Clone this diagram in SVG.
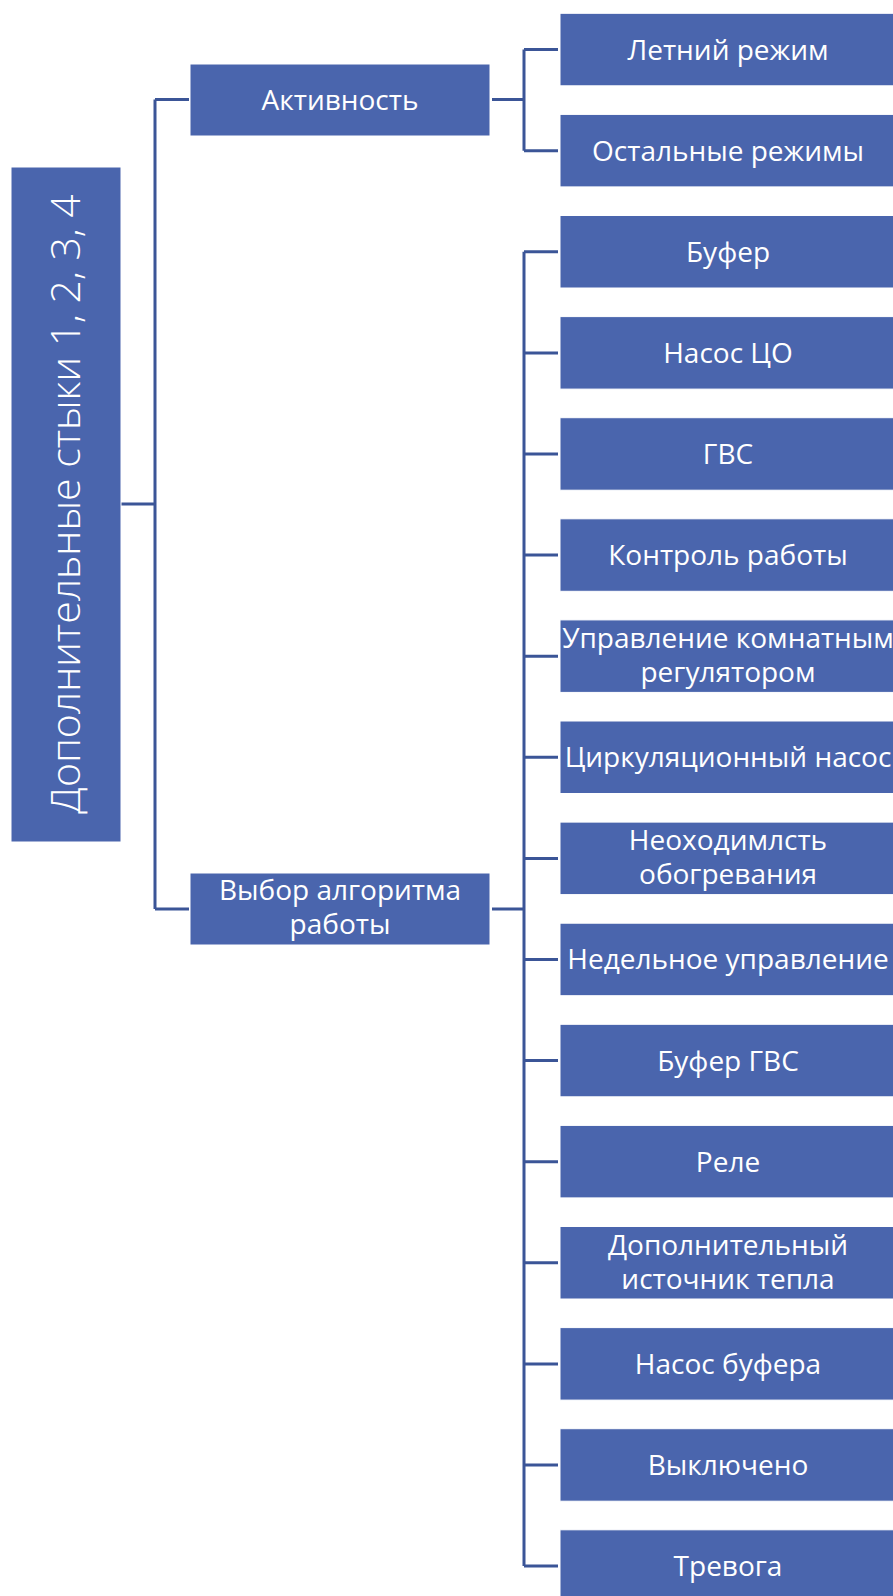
<svg xmlns="http://www.w3.org/2000/svg" width="893" height="1596" viewBox="0 0 893 1596">
<style>
.box{fill:#4A65AD;stroke:#ffffff;stroke-width:1}
.lbl{font-family:"Open Sans","Liberation Sans",sans-serif;font-size:28px;fill:#ffffff;text-anchor:middle}
.root{font-family:"Open Sans","Liberation Sans",sans-serif;font-size:41px;font-weight:300;fill:#ffffff;text-anchor:middle}
.conn{fill:none;stroke:#3B5597;stroke-width:3}
</style>
<rect width="893" height="1596" fill="#ffffff"/>
<g id="connectors">
<path class="conn" d="M121 504 H155 M155 99.5 V909 M155 99.5 H189 M155 909 H189"/>
<path class="conn" d="M492 99.5 H524 M524 49.5 V150.7 M524 49.5 H558 M524 150.7 H558"/>
<path class="conn" d="M492 909 H524 M524 251.8 V1566 M524 251.8 H558 M524 352.9 H558 M524 454 H558 M524 555.1 H558 M524 656.2 H558 M524 757.3 H558 M524 858.4 H558 M524 959.5 H558 M524 1060.6 H558 M524 1161.7 H558 M524 1262.8 H558 M524 1363.9 H558 M524 1465 H558 M524 1566 H558"/>
</g>
<g id="root">
<rect class="box" x="11" y="167" width="110" height="675"/>
<text class="root" x="66" y="517.5" transform="rotate(-90 66 504)">Дополнительные стыки 1, 2, 3, 4</text>
</g>
<g id="aktivnost">
<rect class="box" x="190" y="64" width="300" height="72"/>
<text class="lbl" x="340" y="109.5">Активность</text>
</g>
<g id="vybor">
<rect class="box" x="190" y="873" width="300" height="72"/>
<text class="lbl" x="340" y="899.5">Выбор алгоритма</text>
<text class="lbl" x="340" y="933.5">работы</text>
</g>
<g id="n0"><rect class="box" x="560" y="13.3" width="340" height="72.5"/><text class="lbl" x="728" y="59.5">Летний режим</text></g>
<g id="n1"><rect class="box" x="560" y="114.4" width="340" height="72.5"/><text class="lbl" x="728" y="160.6">Остальные режимы</text></g>
<g id="n2"><rect class="box" x="560" y="215.5" width="340" height="72.5"/><text class="lbl" x="728" y="261.7">Буфер</text></g>
<g id="n3"><rect class="box" x="560" y="316.6" width="340" height="72.5"/><text class="lbl" x="728" y="362.8">Насос ЦО</text></g>
<g id="n4"><rect class="box" x="560" y="417.7" width="340" height="72.5"/><text class="lbl" x="728" y="463.9">ГВС</text></g>
<g id="n5"><rect class="box" x="560" y="518.8" width="340" height="72.5"/><text class="lbl" x="728" y="565">Контроль работы</text></g>
<g id="n6"><rect class="box" x="560" y="619.9" width="340" height="72.5"/><text class="lbl" x="728" y="648.3">Управление комнатным</text><text class="lbl" x="728" y="682">регулятором</text></g>
<g id="n7"><rect class="box" x="560" y="721" width="340" height="72.5"/><text class="lbl" x="728" y="767.2">Циркуляционный насос</text></g>
<g id="n8"><rect class="box" x="560" y="822.1" width="340" height="72.5"/><text class="lbl" x="728" y="850.3">Неоходимлсть</text><text class="lbl" x="728" y="884">обогревания</text></g>
<g id="n9"><rect class="box" x="560" y="923.2" width="340" height="72.5"/><text class="lbl" x="728" y="969.4">Недельное управление</text></g>
<g id="n10"><rect class="box" x="560" y="1024.3" width="340" height="72.5"/><text class="lbl" x="728" y="1070.5">Буфер ГВС</text></g>
<g id="n11"><rect class="box" x="560" y="1125.4" width="340" height="72.5"/><text class="lbl" x="728" y="1171.6">Реле</text></g>
<g id="n12"><rect class="box" x="560" y="1226.5" width="340" height="72.5"/><text class="lbl" x="728" y="1254.8">Дополнительный</text><text class="lbl" x="728" y="1288.5">источник тепла</text></g>
<g id="n13"><rect class="box" x="560" y="1327.6" width="340" height="72.5"/><text class="lbl" x="728" y="1373.8">Насос буфера</text></g>
<g id="n14"><rect class="box" x="560" y="1428.7" width="340" height="72.5"/><text class="lbl" x="728" y="1474.9">Выключено</text></g>
<g id="n15"><rect class="box" x="560" y="1529.8" width="340" height="72.5"/><text class="lbl" x="728" y="1576">Тревога</text></g>
</svg>
